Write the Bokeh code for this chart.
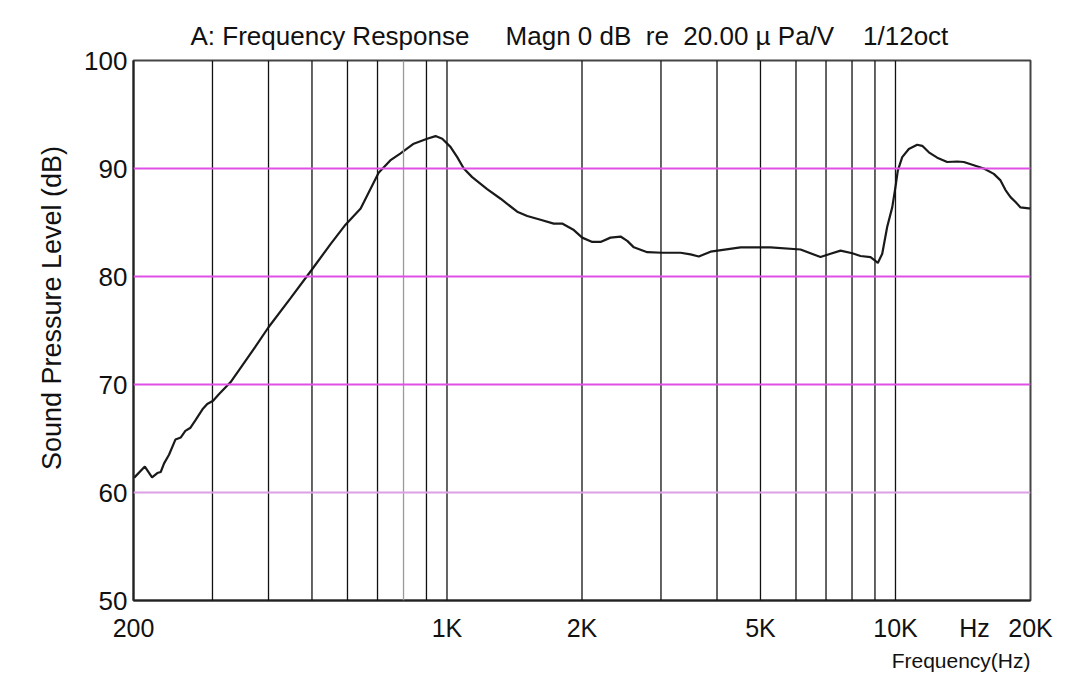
from bokeh.plotting import figure
from bokeh.models import Range1d, FixedTicker, Span, Title
from bokeh.embed import file_html
from bokeh.resources import INLINE

# ---- data ----
freq_hz = [200, 201, 212, 220, 226, 230, 234, 240, 248, 255, 261, 268, 275, 285, 292, 301, 310,
           329, 346, 374, 400, 448, 499, 550, 594, 642, 704, 750, 788, 843, 903, 943, 976, 1018,
           1054, 1090, 1138, 1229, 1317, 1434, 1510, 1616, 1730, 1806, 1918, 2002, 2108, 2200,
           2315, 2438, 2523, 2610, 2796, 3019, 3317, 3492, 3643, 3869, 4514, 5266, 6142, 6805,
           7164, 7542, 8010, 8356, 8796, 8992, 9132, 9342, 9584, 9834, 10000, 10120, 10352,
           10708, 11180, 11472, 11868, 12388, 13040, 13728, 14202, 14950, 15738, 16566, 17146,
           17592, 18050, 18520, 19000, 19825, 20000]
spl_db = [61.5, 61.4, 62.4, 61.4, 61.8, 61.9, 62.7, 63.5, 64.9, 65.1, 65.7, 66.0, 66.7, 67.7,
          68.2, 68.5, 69.1, 70.2, 71.5, 73.5, 75.3, 78.0, 80.6, 83.0, 84.8, 86.3, 89.6, 90.8,
          91.4, 92.3, 92.75, 93.0, 92.75, 92.0, 91.05, 90.0, 89.2, 88.1, 87.2, 86.0, 85.6, 85.25,
          84.9, 84.9, 84.3, 83.6, 83.2, 83.2, 83.6, 83.7, 83.3, 82.7, 82.25, 82.2, 82.2, 82.05,
          81.85, 82.3, 82.7, 82.7, 82.5, 81.8, 82.1, 82.4, 82.15, 81.9, 81.8, 81.5, 81.25, 82.1,
          84.6, 86.4, 88.3, 89.8, 91.05, 91.8, 92.2, 92.1, 91.5, 91.0, 90.6, 90.65, 90.6, 90.3,
          90.0, 89.5, 88.9, 88.0, 87.35, 86.9, 86.4, 86.3, 86.3]

x_ticks = [200, 1000, 2000, 5000, 10000, 15000, 20000]
x_tick_labels = ["200", "1K", "2K", "5K", "10K", "Hz", "20K"]
y_ticks = [50, 60, 70, 80, 90, 100]
v_grid_dark = [300, 400, 500, 600, 700, 900, 1000, 2000, 3000, 4000, 5000, 6000, 7000, 8000, 9000, 10000]
v_grid_light = [800]
h_grid = [60, 70, 80, 90]
h_grid_colors = ["#dca0e4", "#e050e6", "#e050e6", "#e050e6"]

NB = "\u00a0"
title_text = ("A: Frequency Response" + NB * 5 + "Magn 0 dB" + NB * 2 + "re" + NB * 2 +
              "20.00" + NB + "\u00b5" + NB + "Pa/V" + NB * 4 + "1/12oct")
y_label = "Sound Pressure Level (dB)"
x_label = "Frequency(Hz)"

# ---- figure ----
p = figure(width=1055, height=674, x_axis_type="log", output_backend="svg",
           toolbar_location=None, x_range=Range1d(200, 20000), y_range=Range1d(50, 100),
           min_border_left=133, min_border_right=25, min_border_top=60, min_border_bottom=74)
p.background_fill_color = "white"
p.border_fill_color = "white"
p.outline_line_color = "#444444"
p.outline_line_width = 2
p.xgrid.visible = False
p.ygrid.visible = False

for f in v_grid_dark:
    p.add_layout(Span(location=f, dimension="height", line_color="#111111", line_width=1.3))
for f in v_grid_light:
    p.add_layout(Span(location=f, dimension="height", line_color="#9a9a9a", line_width=1.3))
for lvl, col in zip(h_grid, h_grid_colors):
    p.add_layout(Span(location=lvl, dimension="width", line_color=col, line_width=2))

p.line(freq_hz, spl_db, line_color="#1a1a1a", line_width=2.2)

# axes
xa = p.xaxis[0]
xa.ticker = FixedTicker(ticks=x_ticks)
xa.major_label_overrides = {t: l for t, l in zip(x_ticks, x_tick_labels)}
xa.major_tick_out = 0
xa.major_tick_in = 0
xa.minor_tick_out = 0
xa.minor_tick_in = 0
xa.major_label_standoff = 13
xa.axis_line_color = "#222222"
xa.axis_line_width = 2
xa.major_label_text_font = "Liberation Sans"
xa.major_label_text_font_size = "25px"
xa.major_label_text_color = "#111111"

ya = p.yaxis[0]
ya.ticker = FixedTicker(ticks=y_ticks)
ya.major_tick_out = 0
ya.major_tick_in = 0
ya.minor_tick_out = 0
ya.minor_tick_in = 0
ya.major_label_standoff = 6
ya.axis_line_color = "#222222"
ya.axis_line_width = 2
ya.major_label_text_font = "Liberation Sans"
ya.major_label_text_font_size = "26px"
ya.major_label_text_color = "#111111"
ya.axis_label = NB * 6 + y_label
ya.axis_label_text_font = "Liberation Sans"
ya.axis_label_text_font_size = "27px"
ya.axis_label_text_font_style = "normal"
ya.axis_label_text_color = "#111111"
ya.axis_label_standoff = 14

p.add_layout(Title(text=x_label, align="right", text_font="Liberation Sans",
                   text_font_size="21px", text_font_style="normal", text_color="#111111",
                   standoff=4), "below")

p.add_layout(Title(text=title_text, align="left", offset=57, text_font="Liberation Sans",
                   text_font_size="26px", text_font_style="normal", text_color="#111111",
                   standoff=19), "above")

open("out.html", "w").write(file_html(p, INLINE))
